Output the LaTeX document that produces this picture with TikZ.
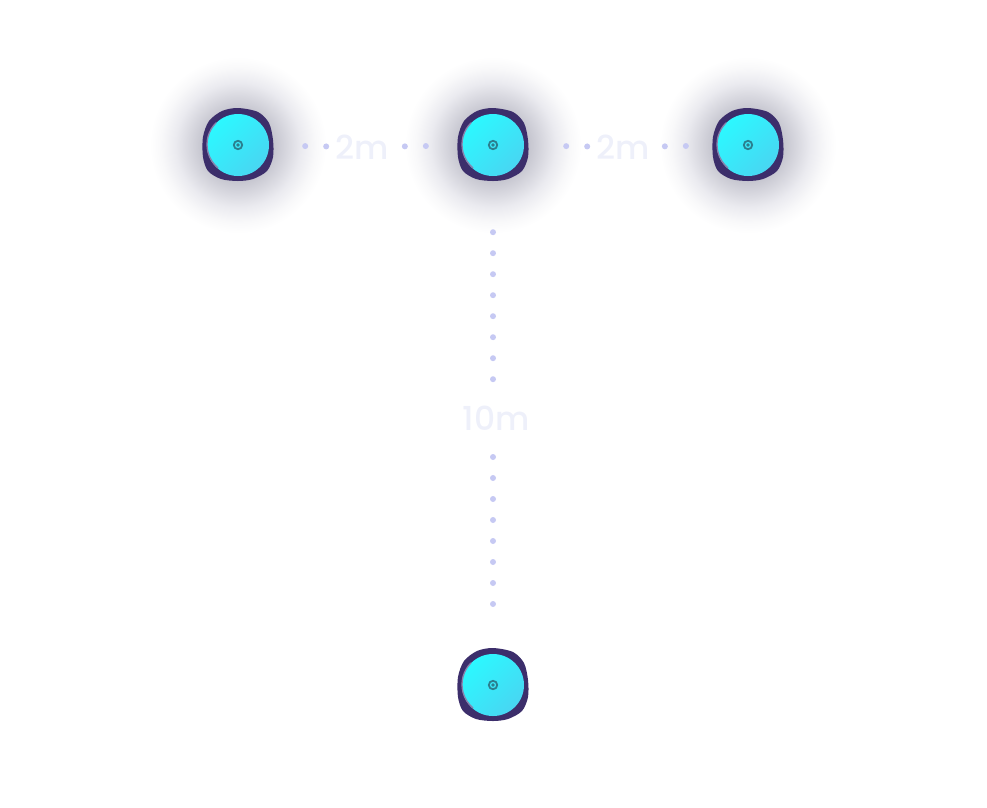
\documentclass[tikz,border=0pt]{standalone}
\usepackage{fontspec}
\setmainfont{Poppins}
\newfontfamily\distfont{Poppins Medium}
\usetikzlibrary{backgrounds}
\definecolor{cyanhi}{HTML}{2CF8FF}
\definecolor{cyanlo}{HTML}{48D6F2}
\definecolor{blobc}{HTML}{3C2E6B}
\definecolor{bevelc}{HTML}{8A80AC}
\definecolor{ringc}{HTML}{2B7F8E}
\definecolor{dotc}{HTML}{C6C9F3}
\definecolor{labelc}{HTML}{EEF0FA}
\pgfdeclareradialshading{devglow}{\pgfpoint{0bp}{0bp}}{rgb(0bp)=(.74,.74,.78); rgb(9bp)=(.76,.76,.80); rgb(13bp)=(.84,.84,.87); rgb(17bp)=(.92,.92,.94); rgb(21bp)=(.975,.975,.98); rgb(24bp)=(1,1,1); rgb(50bp)=(1,1,1)}
\begin{document}
\begin{tikzpicture}[
				x=1pt, y=-1pt,
				device/.style={circle, minimum size=62pt, inner sep=0pt, top color=cyanhi, bottom color=cyanlo, shading angle=45,
					path picture={
						\draw[ringc, line width=1.8pt] (path picture bounding box.center) circle (4.2pt);
						\fill[ringc] (path picture bounding box.center) circle (1.9pt);
					}},
				dist/.style={text=labelc, inner sep=0pt, minimum width=52pt, minimum height=30pt, font=\distfont\fontsize{33}{38}\selectfont},
				dots/.style={dotc, line width=6pt, line cap=round, dash pattern=on 0pt off 21pt}
				]
				\useasboundingbox (0,0) rectangle (987,807);
				% devices
				\node[device] (a) at (238,145) {};
				\node[device] (b) at (493,145) {};
				\node[device] (c) at (748,145) {};
				\node[device] (d) at (493,685) {};
				\foreach \n in {a,b,c,d}
					\draw[bevelc, line width=1.3pt, line cap=round] (\n.135) arc[start angle=-135, end angle=-230, radius=30.5];
				% distances
				\node[dist] (l1) at (362,147) {2m};
				\node[dist] (l2) at (623,147) {2m};
				\node[dist, minimum width=70pt, minimum height=40pt] (l3) at (496,418) {10m};
				\draw[dots, shorten <=36pt, shorten >=4pt] (a) -- (l1);
				\draw[dots, shorten <=16pt, shorten >=33pt] (l1) -- (b);
				\draw[dots, shorten <=42pt, shorten >=5pt] (b) -- (l2);
				\draw[dots, shorten <=15pt, shorten >=28pt] (l2) -- (c);
				\draw[dots, shorten <=56pt, shorten >=15pt] (b) -- (493,398);
				\draw[dots, shorten <=0pt, shorten >=45pt] (493,457) -- (d);
				\begin{scope}[on background layer]
					\foreach \n in {a,b,c}
						\shade[shading=devglow] (\n) circle (92pt);
					\foreach \n in {a,b,c,d}
						\fill[blobc, shift={(\n)}] plot[smooth cycle] coordinates {(0,-37) (20,-33) (31,-22) (35,-5) (35,12) (29,26) (15,34) (0,36) (-17,34) (-30,26) (-35,12) (-35,-8) (-29,-24) (-16,-34)};
				\end{scope}
\end{tikzpicture}
\end{document}
